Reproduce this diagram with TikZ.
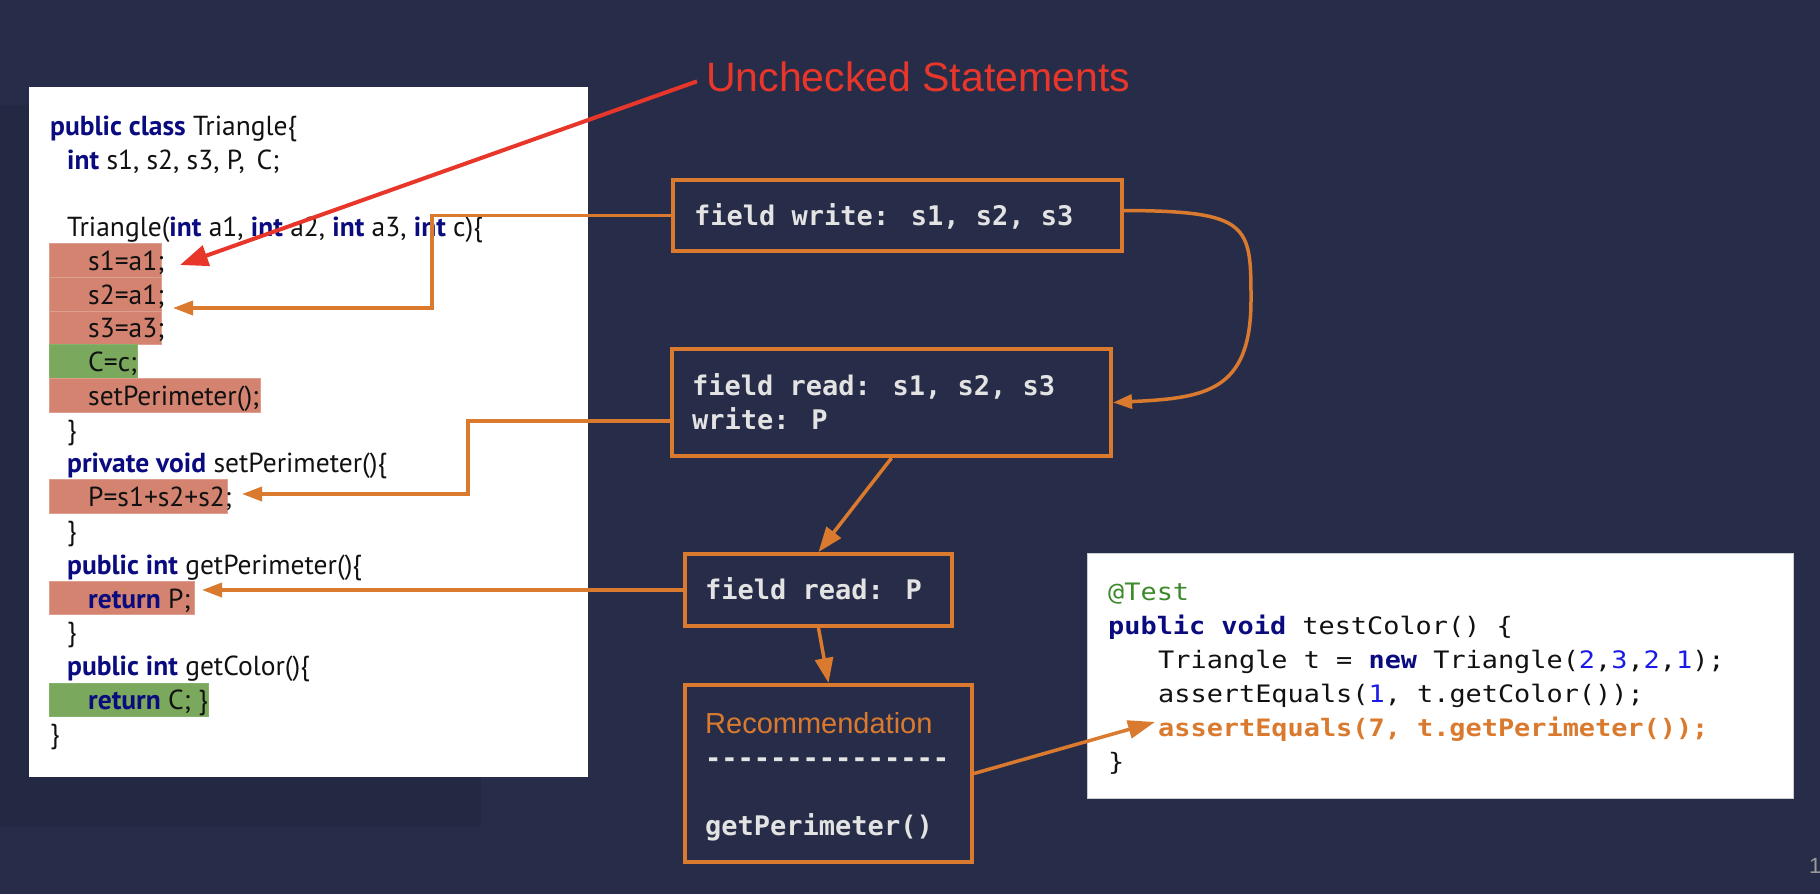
\documentclass[tikz,border=0pt]{standalone}
\usepackage{fontspec}
\setmainfont{PT Sans}
\newfontfamily\codesans{PT Sans}
\newfontfamily\boxmono{DejaVu Sans Mono}
\newfontfamily\testmono[FakeStretch=1.12]{DejaVu Sans Mono}
\newfontfamily\labelsans{Liberation Sans}
\usetikzlibrary{arrows.meta}
\definecolor{bg}{HTML}{272D48}
\definecolor{bgdark}{HTML}{242943}
\definecolor{orng}{HTML}{DA7A2E}
\definecolor{redc}{HTML}{E8372A}
\definecolor{hlred}{HTML}{D3836F}
\definecolor{hlsep}{HTML}{DDA08F}
\definecolor{hlgreen}{HTML}{7AA85D}
\definecolor{kwblue}{HTML}{0B0B80}
\definecolor{codeblack}{HTML}{111111}
\definecolor{boxtext}{HTML}{E3E3E3}
\definecolor{anngreen}{HTML}{3C8A2A}
\definecolor{numblue}{HTML}{1A1AE6}
\definecolor{pagegrey}{HTML}{9A9A9A}
\newcommand{\kwd}[1]{{\bfseries\color{kwblue}#1}}
\newcommand{\numb}[1]{{\color{numblue}#1}}
\tikzset{
  fbox/.style={draw=orng, line width=4pt, inner sep=0pt},
  code/.style={anchor=base west, inner sep=0pt, text=codeblack, font=\codesans\fontsize{27.5}{34}\selectfont},
  mono/.style={anchor=base west, inner sep=0pt, text=boxtext, font=\boxmono\bfseries\fontsize{27}{34}\selectfont},
  tcode/.style={anchor=base west, inner sep=0pt, text=codeblack, font=\testmono\fontsize{24}{34}\selectfont},
  hlr/.style={fill=hlred, draw=hlsep, line width=0.6pt},
  hlg/.style={fill=hlgreen, draw=hlgreen!90!white, line width=0.6pt},
  oline/.style={draw=orng, line width=3.5pt, line join=miter},
  oarrow/.style={oline, -{Triangle[length=20pt,width=14pt]}},
  oarrowbig/.style={oline, -{Triangle[length=25pt,width=18pt]}},
  rarrow/.style={draw=redc, line width=4pt, -{Triangle[length=28pt,width=21pt]}}
}
\begin{document}
\begin{tikzpicture}[x=1pt,y=-1pt]
\useasboundingbox (0,0) rectangle (1820,894);
\fill[bg] (0,0) rectangle (1820,894);
\fill[bgdark] (0,105) rectangle (481,827);

% code box
\node[fill=white, minimum width=559pt, minimum height=690pt, inner sep=0pt] (codebox) at (308.5,432) {};

% highlights
\fill[hlr] (49,243) rectangle (161,277);
\fill[hlr] (49,277) rectangle (161,311);
\fill[hlr] (49,311) rectangle (161,344);
\fill[hlg] (49,344) rectangle (137,378);
\fill[hlr] (49,378) rectangle (260,412);
\fill[hlr] (49,479) rectangle (227,513);
\fill[hlr] (49,581) rectangle (194,614);
\fill[hlg] (49,683) rectangle (208,716);

% code lines
\node[code] (l1) at (50,135) {\kwd{public class} Triangle\{};
\node[code] (l2) at (67,169) {\kwd{int} s1, s2, s3, P,\, C;};
\node[code] (l4) at (67,236) {Triangle(\kwd{int} a1, \kwd{int} a2, \kwd{int} a3, \kwd{int} c)\{};
\node[code] (l5) at (88,270) {s1=a1;};
\node[code] (l6) at (88,304) {s2=a1;};
\node[code] (l7) at (88,337) {s3=a3;};
\node[code] (l8) at (88,371) {C=c;};
\node[code] (l9) at (88,405) {setPerimeter();};
\node[code] (l10) at (67,439) {\}};
\node[code] (l11) at (67,472) {\kwd{private void} setPerimeter()\{};
\node[code] (l12) at (88,506) {P=s1+s2+s2;};
\node[code] (l13) at (67,540) {\}};
\node[code] (l14) at (67,574) {\kwd{public int} getPerimeter()\{};
\node[code] (l15) at (88,608) {\kwd{return} P;};
\node[code] (l16) at (67,641) {\}};
\node[code] (l17) at (67,675) {\kwd{public int} getColor()\{};
\node[code] (l18) at (88,709) {\kwd{return} C; \}};
\node[code] (l19) at (50,743) {\}};

% flow boxes
\node[fbox, minimum width=449pt, minimum height=71pt] (fw) at (897.5,215.5) {};
\node[mono] (fwt) at (694,225) {field write: s1, s2, s3};

\node[fbox, minimum width=439pt, minimum height=107pt] (fr) at (891.5,402.5) {};
\node[mono] (frt1) at (692,395) {field read: s1, s2, s3};
\node[mono] (frt2) at (692,429) {write: P};

\node[fbox, minimum width=267pt, minimum height=72pt] (frp) at (818.5,590) {};
\node[mono] (frpt) at (705,599) {field read: P};

\node[fbox, minimum width=287pt, minimum height=177pt] (rec) at (828.5,773.5) {};
\node[anchor=base west, inner sep=0pt, text=orng, font=\labelsans\fontsize{29}{34}\selectfont] (rect1) at (705,733) {Recommendation};
\node[mono] (rect2) at (705,767) {---------------};
\node[mono] (rect3) at (705,835) {getPerimeter()};

% test box
\node[fill=white, draw=gray!40, line width=0.8pt, minimum width=706pt, minimum height=245pt, inner sep=0pt] (testbox) at (1440,675.5) {};
\node[tcode, text=anngreen] (t1) at (1108,600) {@Test};
\node[tcode] (t2) at (1108,634) {\kwd{public void} testColor() \{};
\node[tcode] (t3) at (1158,668) {Triangle t = \kwd{new} Triangle(\numb{2},\numb{3},\numb{2},\numb{1});};
\node[tcode] (t4) at (1158,702) {assertEquals(\numb{1}, t.getColor());};
\node[tcode, text=orng, font=\testmono\bfseries\fontsize{24}{34}\selectfont] (t5) at (1158,736) {assertEquals(7, t.getPerimeter());};
\node[tcode] (t6) at (1108,770) {\}};

% label
\node[anchor=base west, inner sep=0pt, text=redc, font=\labelsans\fontsize{41}{48}\selectfont] (uc) at (706,91) {Unchecked Statements};

% page number
\node[anchor=base west, inner sep=0pt, text=pagegrey, font=\labelsans\fontsize{22}{26}\selectfont] (pg) at (1809,873) {1};

% tip coordinates
\coordinate (tipA) at (173,308);
\coordinate (tipB) at (242,494);
\coordinate (tipC) at (202,590);
\coordinate (tipR) at (180,265);
\coordinate (tipT) at (1155,722);

% connectors
\draw[oarrow] (fw.west) -- ++(-239,0) |- (tipA);
\draw[oarrow] ([yshift=-18.5pt]fr.west) -- ++(-202,0) |- (tipB);
\draw[oarrow] (frp.west) -- (tipC);
\draw[oline, -{Triangle[length=19pt,width=14pt]}] ([yshift=5pt]fw.east) .. controls (1250,211) and (1251,225) .. (1251,300) .. controls (1251,392) and (1205,398) .. (fr.east);
\draw[oarrowbig] (fr.south) -- (frp.north);
\draw[oarrowbig] (frp.south) -- (rec.north);
\draw[oline, -{Triangle[length=27pt,width=18pt]}] (rec.east) -- (tipT);
\draw[rarrow] ([xshift=-9pt,yshift=-5pt]uc.west) -- (tipR);
\end{tikzpicture}
\end{document}
